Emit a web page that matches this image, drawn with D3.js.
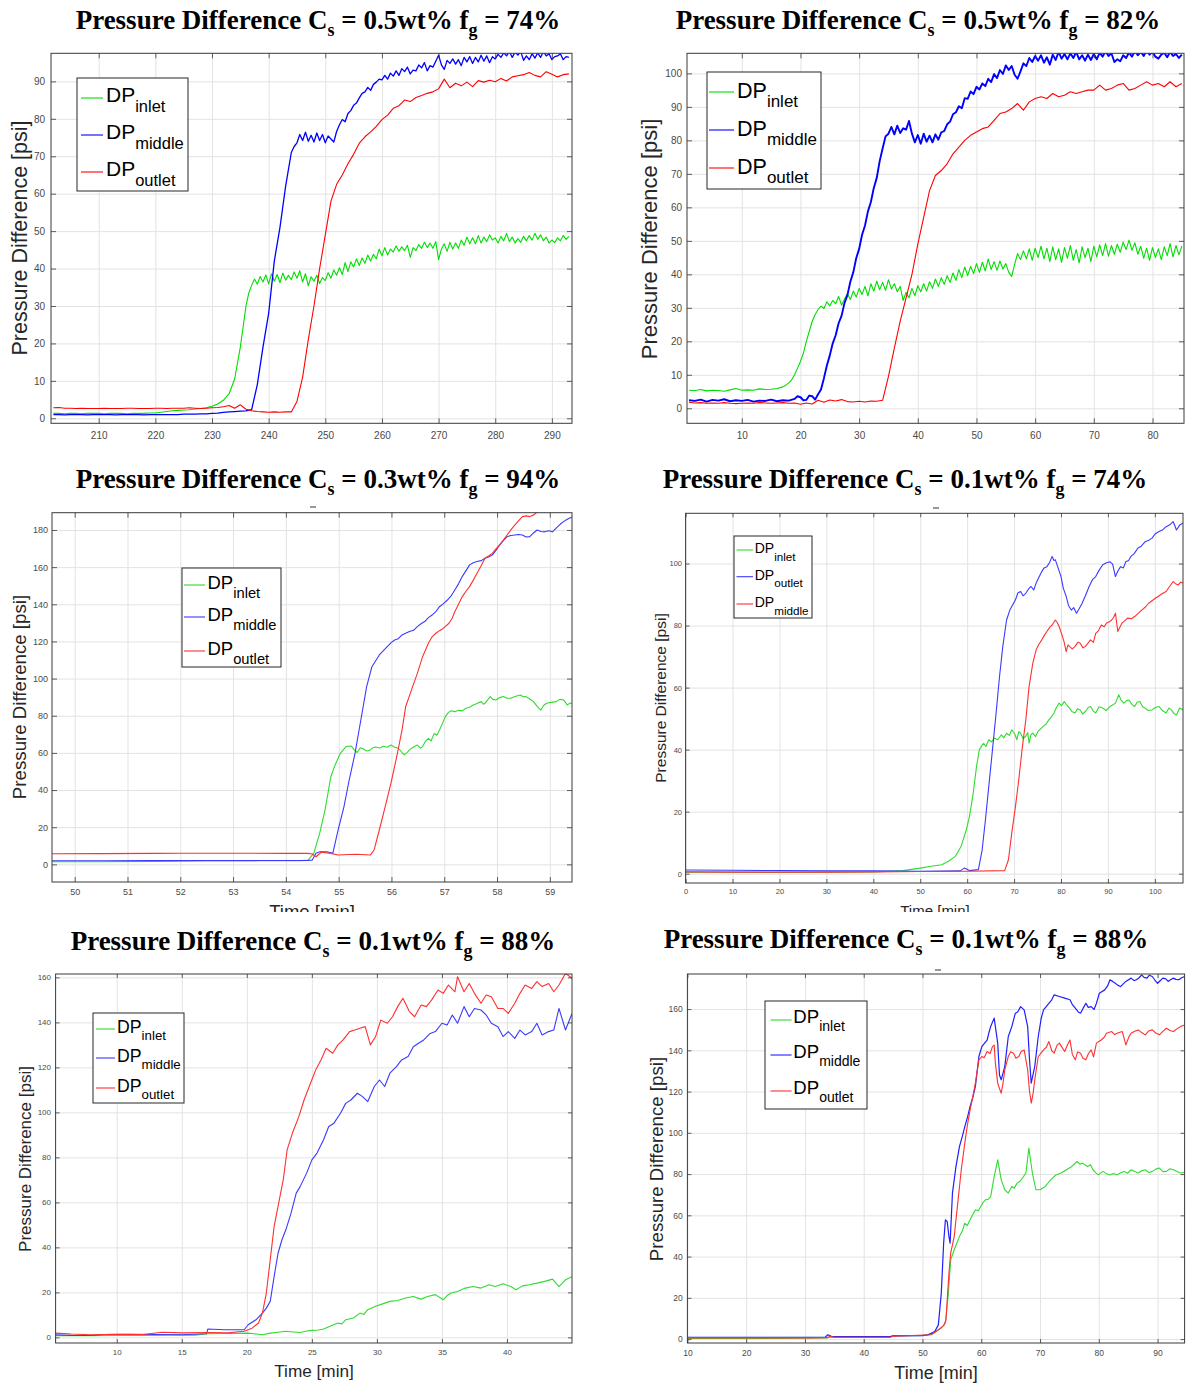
<!DOCTYPE html>
<html>
<head>
<meta charset="utf-8">
<script src="https://cdn.jsdelivr.net/npm/d3@7"></script>
<style>
  body { margin: 0; background: #fff; }
  svg { display: block; }
</style>
</head>
<body>
<svg id="fig" width="1190" height="1385"></svg>
<script>
// ---------------- data ----------------
// Run 1: Cs = 0.5 wt%, fg = 74 %
// logger switches from 1-min to 0.5-min readings once the pressure builds up
const run1InletTime = d3.range(202, 236).concat(d3.range(236, 293.5, 0.5));
const run1Inlet = [1.3,1.3,1.2,1.3,1.3,1.2,1.3,1.3,1.3,1.2,1.3,1.3,1.3,1.2,1.3,1.3,1.3,1.4,1.4,
  1.6,1.8,2.0,2.1,2.2,2.3,2.5,2.6,2.8,
  3.2,3.8,4.8,6.5,10.5,19,
  30,33.5,35.5,37.2,35.8,37.9,36.4,38.3,35.9,38.6,
  36.6,38.4,36.2,38.8,36.9,38.2,37,39.1,37.4,39.4,
  36.4,38.6,35.4,37.8,36.6,38.2,36,37.6,36.8,38.9,
  37.4,39.6,38.2,40.2,38.4,41.6,39.2,41.8,40.4,42.6,
  40.8,42.8,41.4,43.6,42,43.8,42.6,45.2,43.4,45.6,
  43.6,45.2,44.4,46,44.6,45.8,44.8,46.2,43,45.6,
  44.8,46.4,45.4,47,45.6,46.8,45.4,47.2,42.4,45.2,
  46.6,44.6,47,45.2,46.8,45.4,47.6,46.2,48.4,46.6,
  48.2,46.6,48.8,46.8,48.4,47.2,49,47.6,48.2,46.8,
  48.6,47.4,49.4,47.2,48.4,46.8,48,47,48.6,47.4,
  48.8,47.6,49.4,47.8,49,47.4,48.4,46.8,47.6,46.9,
  48.2,47.4,48.8,47.8,48.6];
const run1MiddleTime = d3.range(202, 244).concat(d3.range(244, 293.5, 0.5));
const run1Middle = [1.0,1.0,0.9,1.0,1.0,1.0,0.9,1.0,1.0,1.0,1.0,0.9,1.0,1.0,1.0,1.0,0.9,1.0,1.0,1.0,1.0,1.0,1.0,1.1,1.1,1.1,1.2,1.2,1.3,
  1.4,1.6,1.7,1.8,1.9,2.0,2.3,9,19,28,42,51,62,
  71,72.6,73.6,75.8,74.2,76.4,74,75.6,73.8,76.2,
  74.2,75.8,73.6,75.4,74.6,73.8,76.6,78.4,79.8,79.2,
  81.4,82.2,83.6,84.2,85.6,86.8,87.2,88.4,87.6,89.2,
  89.8,90.6,90.4,91.6,90.6,92.2,91.4,92.8,91.6,93.4,
  92.6,93.8,92,93,92.8,94.4,93.6,95,92.8,94.2,
  93.8,95.4,97,94.4,93.2,95.6,94.8,96,94.6,95.8,
  94.2,96.4,95.2,96.6,94.8,96.4,95.2,97,95.4,96.8,
  95,96.6,96,97.2,96.4,97.6,96.8,98,96.4,97.8,
  97,98,95.6,96.8,95.8,97.4,96.2,97.6,96.4,98,
  96.8,97.4,95.8,96.6,96.8,97.4,95.8,96.6,96.4];
const run1OutletTime = d3.range(202, 294);
const run1Outlet = [2.8,2.9,2.7,2.7,2.6,2.7,2.6,2.6,2.6,2.7,2.6,2.6,2.6,2.7,2.7,2.6,2.6,2.6,2.7,2.7,2.6,2.7,2.7,2.7,2.8,2.7,2.6,2.7,
  2.8,2.9,3.1,3.4,2.7,3.6,2.4,2.0,1.8,1.7,1.6,1.7,1.6,1.7,1.7,4.5,11,21,30,40,49,58,62.5,65,68,70.5,73.5,
  75.2,76.5,78,79.8,81,82.8,83.5,85,84.6,85.7,86.2,86.8,87.2,88,90.6,88.3,89.5,88.8,89.8,88.6,90.2,89.8,
  90.3,89.9,90.8,90.1,91.2,91.5,91.8,92.4,91.6,91.2,92.6,91.9,91.2,91.8,92.0];

// Run 2: Cs = 0.5 wt%, fg = 82 %
const run2InletTime = d3.range(1, 17).concat(d3.range(17, 85.5, 0.5));
const run2Inlet = [5.4,5.3,5.6,5.2,5.4,5.3,5.1,5.5,5.9,5.4,5.5,5.4,5.8,5.6,5.7,5.9,
  6.4,6.9,7.6,8.5,10,12,14,16.5,20,23,
  26,28,29.5,30.5,29.8,31.8,30.6,32.2,31.2,33.4,
  30.8,32.6,34.2,32.5,35,33.2,35.8,34,36.4,33.6,
  37.2,35,38,35.4,37.6,35.2,38.4,35.6,37.2,34.8,
  36.4,32.2,34.6,33,35.8,33.6,36.6,34.8,37.2,35,
  37.8,35.8,38.6,36.4,39,37,39.6,37.6,40.4,38.2,
  41.4,39,42.2,39.6,42.4,40.2,43.2,40.6,43.6,41,
  44.6,41.4,43.8,41.2,44,41.6,43.2,40.6,39.4,43,
  46.2,44.4,47,44.6,47.6,44.2,47.8,45,48.4,44.6,
  47.8,43.8,48.2,44.4,47.6,43.6,48,44.8,48.6,44.2,
  47.4,43.4,48.2,45,47.8,43.8,48.4,45.2,48.8,45.6,
  49.2,45.4,48.6,46,49,46.6,49.6,47.4,50.2,47.2,
  49.4,46,48.4,44.8,47.8,44.2,48,45,47.6,44.4,
  48.2,45.6,49.2,45.2,48.6,45.8,48.4];
const run2MiddleTime = d3.range(1, 19).concat(d3.range(19, 85.5, 0.5));
const run2Middle = [2.4,2.2,2.6,2.0,2.5,2.3,2.7,2.1,2.4,2.2,2.5,2.0,2.3,2.2,2.6,2.1,2.4,2.3,
  2.8,3.6,3.3,2.4,2.5,3.8,3.6,2.6,4.2,5.6,
  9,12.8,15.8,19.4,21.8,25.4,27.6,31.4,33.8,37.8,
  40.6,44.8,47.6,51.8,54.6,58.8,61.6,65.8,68.8,73.8,
  77.6,81.2,82,84,81.8,84.4,82.2,83.6,83.2,85.8,
  82,79.4,81.6,79,82,79.6,81.4,79.4,81.8,80.2,
  82.4,82.8,84.8,85.6,87.8,88.4,90.2,89.6,92.6,92.4,
  94.6,93.8,96,95.2,97,96.2,98.4,97.4,99.8,98.6,
  101,99.8,102.4,101,102.2,99.6,98.4,100.6,103,102.2,
  104.6,103.4,105.2,103.8,105.4,103.2,104.8,102.6,105.6,104,
  106.4,104.4,105.8,104.2,106,104.6,106.4,104.2,105.4,103.8,
  105.6,104,105.8,104.2,106.2,105,106.6,105.2,106,103.4,
  104.2,103.6,105.4,104.6,106.2,105,106.6,105.4,106.4,105.2,
  106.8,105.6,106.4,105,104.4,105.6,106.2,104.8,106.4,105.2,
  105.8,104.6,105.6];
const run2OutletTime = d3.range(1, 86);
const run2Outlet = [1.8,1.6,1.7,1.5,1.6,1.5,1.7,1.5,1.4,1.5,1.6,1.5,1.7,1.6,1.5,1.6,1.7,1.5,1.6,
  1.2,1.6,1.3,2.4,1.8,2.5,2.2,2.6,2.0,1.9,2.1,1.9,2.2,2.1,2.4,9.5,18,26,33,40,49,57,65,69.5,71,73,76,78,
  80,81.5,82.5,83.5,84,86,88,88.5,89.5,91,89,91.5,92.5,93,92.5,94,93,93.5,94.5,94,94.5,95,95,96.5,95,
  95.5,96.5,97,95,95.5,96.5,97.5,96.5,97,96,97.5,96,97];

// Run 3: Cs = 0.3 wt%, fg = 94 %  [time, psi]
const run3Inlet = [[49.57,1.4],[50.5,1.4],[51.5,1.6],[52.5,1.8],[53.5,1.9],[54.3,2.0],[54.42,2.3],[54.53,6],[54.64,16.7],[54.74,29],[54.85,47],[54.92,52.6],[55.03,59.8],[55.14,63.4],[55.24,63.7],[55.3,61.5],[55.35,60.2],[55.41,62.8],[55.46,62.2],[55.53,61],[55.6,61.6],[55.65,62.8],[55.7,63.2],[55.78,62.6],[55.85,63.6],[55.92,63.0],[55.99,64.2],[56.06,63.0],[56.13,62.5],[56.24,58.9],[56.3,60.3],[56.34,61.6],[56.42,63.2],[56.49,64.2],[56.55,62.6],[56.59,63.4],[56.65,66.5],[56.7,67.8],[56.75,66.4],[56.81,70.5],[56.86,69.5],[56.91,72.3],[56.96,75.5],[57.02,79.5],[57.08,81.8],[57.13,82.7],[57.2,82.2],[57.27,83],[57.34,82.6],[57.41,84],[57.48,84.6],[57.55,85.8],[57.62,86.6],[57.7,87.6],[57.74,86.2],[57.77,86.7],[57.83,88.8],[57.87,90.3],[57.92,88.8],[57.98,88.5],[58.05,89.8],[58.12,90.3],[58.19,89.4],[58.26,89.4],[58.34,90.4],[58.44,91.2],[58.5,90.2],[58.55,90.3],[58.62,89.0],[58.69,87.6],[58.76,85.0],[58.83,83],[58.88,85.5],[58.94,86.7],[59.02,87.2],[59.12,87.6],[59.19,88.8],[59.26,88.5],[59.33,85.8],[59.38,86.8],[59.42,86.7]];
const run3Middle = [[49.57,1.9],[50.5,1.9],[51.5,2.0],[52.5,2.1],[53.5,2.1],[54.4,2.1],[54.5,2.3],[54.57,6],[54.64,6.8],[54.78,6.8],[54.89,6],[54.99,18.5],[55.1,31],[55.2,45.4],[55.31,59.8],[55.42,77.7],[55.53,95.7],[55.63,106.4],[55.77,112.7],[55.92,117.2],[56.0,119.5],[56.06,120.8],[56.13,121.5],[56.2,123.5],[56.27,124.4],[56.34,125.3],[56.42,126],[56.49,128],[56.56,129.5],[56.63,130.7],[56.7,132.8],[56.77,134.2],[56.84,136],[56.91,138.7],[56.98,140.2],[57.06,142.3],[57.13,144.5],[57.2,147.7],[57.27,151],[57.34,154.9],[57.41,158],[57.48,161.2],[57.55,162.4],[57.62,163],[57.7,163.5],[57.77,164.8],[57.84,165.4],[57.91,166.5],[57.98,169],[58.05,172],[58.12,174.3],[58.19,176.4],[58.26,177],[58.34,177.3],[58.41,177.6],[58.48,177.3],[58.55,176.2],[58.62,176.4],[58.69,178.4],[58.76,180],[58.83,179.2],[58.9,179],[58.98,179.6],[59.05,179],[59.1,180.5],[59.15,181.8],[59.2,183.2],[59.26,184.5],[59.33,185.8],[59.38,186.5],[59.42,187]];
const run3Outlet = [[49.57,5.7],[50.5,5.8],[51.5,5.9],[52.0,6.0],[53.0,6.0],[54.0,5.9],[54.42,5.9],[54.5,5.6],[54.57,4.1],[54.67,6.5],[54.85,5.9],[54.99,5.0],[55.2,5.3],[55.35,5.4],[55.6,5.0],[55.67,7.7],[55.77,18.5],[55.88,31],[55.99,43.6],[56.1,58],[56.2,72.3],[56.27,85],[56.38,93.9],[56.49,102.8],[56.59,111.8],[56.7,119],[56.77,122.5],[56.84,124.4],[56.91,125.8],[56.98,127],[57.09,129.8],[57.15,132.5],[57.2,136],[57.27,140],[57.34,144],[57.41,147],[57.48,149.5],[57.55,153],[57.62,156.7],[57.7,160.8],[57.77,164.8],[57.84,166],[57.91,167.4],[57.98,169.8],[58.05,172],[58.12,174.5],[58.19,177.3],[58.26,180],[58.34,182.7],[58.41,185],[58.48,187.2],[58.55,187.6],[58.62,187.2],[58.69,188],[58.73,189],[58.78,190],[58.83,190.8],[58.9,192]];

// Run 4: Cs = 0.1 wt%, fg = 74 %  [time, psi]
const run4Inlet = [[0,0.5],[10,0.5],[20,0.4],[30,0.5],[40,0.6],[46.3,1.0],[50,1.8],[52.3,2.4],[54.6,2.9],[56,4],[57.5,5.6],[58.7,8.8],[59.8,14],[60.5,18.5],[61.3,26],[62,34.6],[62.6,40],[63.1,41.2],[63.5,42],[64,41],[64.6,43.2],[65.2,42.5],[65.8,43.7],[66.5,43.2],[67.3,44.8],[67.8,43.8],[68.4,45.3],[69,44.6],[69.5,46.4],[70.1,45.2],[70.6,43.2],[71,45.8],[71.4,45.3],[71.9,43.6],[72.5,44.3],[72.9,45.5],[73.2,42.1],[73.6,44.8],[74,45.3],[74.6,44.2],[75.1,45.9],[75.6,46.6],[76.2,47.5],[76.8,48.2],[77.4,49.6],[77.9,50.5],[78.5,51.8],[79,53.5],[79.6,55],[80.1,54.2],[80.7,55.5],[81.2,54.4],[81.8,53.4],[82.4,52.2],[83,51.8],[83.5,53.2],[84.1,52.8],[84.6,51.5],[85.2,52.3],[85.8,53.6],[86.3,53.9],[86.9,52.4],[87.4,51.8],[88.1,53.8],[88.9,53.4],[89.6,52.6],[90.4,53.9],[91,54.4],[91.6,55],[92.3,57.7],[92.8,56],[93.4,55],[94,55.8],[94.5,56],[95.1,54.6],[95.7,53.9],[96.2,55.3],[96.8,55.5],[97.4,53.8],[97.9,53.4],[98.6,52.6],[99.4,52.8],[100.1,53.6],[100.9,53.9],[101.6,52.6],[102.4,51.8],[103,53.4],[103.5,52.8],[104.1,51.6],[104.6,51.2],[105.3,53.4],[106,52.8]];
const run4Outlet = [[0,1.2],[10,1.1],[20,1.0],[30,0.9],[40,0.9],[50,0.8],[58.5,0.9],[59.4,1.8],[60.5,1.0],[62.4,1.3],[63.2,7.7],[63.9,17.4],[64.6,28],[65.4,40],[66.1,50.7],[66.9,63.6],[67.6,73.3],[68.4,81.8],[69.1,85],[70.3,88.3],[70.8,90.5],[71.4,91],[71.9,89.6],[72.5,90.4],[73.1,91.8],[73.6,92.6],[74.2,91.5],[74.7,93.7],[75.3,95.6],[75.9,97.4],[76.4,98.6],[77,99],[77.6,100.4],[78.1,102.3],[78.5,101],[78.8,101.2],[79.4,98.5],[80,95.8],[80.5,92],[81.1,89.4],[81.6,86.5],[82.2,85],[82.7,85.8],[83.3,84],[83.9,85.5],[84.5,87.2],[85.2,89.6],[86,92.6],[86.7,94.8],[87.4,95.8],[88.1,97.8],[88.9,99.6],[89.6,100.2],[90.4,100.6],[91,99.8],[91.6,95.8],[92.1,97.5],[92.7,99],[93.3,98.6],[93.8,100.6],[94.4,101],[94.9,102.3],[95.6,103.2],[96.4,105],[97.1,105.6],[97.9,107],[98.6,107.4],[99.4,108.2],[100.1,109.6],[100.9,110.3],[101.6,110.8],[102.4,111.9],[103.1,112.4],[103.9,113.5],[104.3,112],[104.6,110.8],[105.3,112.4],[106,113]];
const run4Middle = [[0,0.6],[10,0.5],[20,0.5],[30,0.5],[40,0.6],[50,0.7],[60,0.8],[68,1.0],[68.8,4.5],[69.5,13],[70.3,21.7],[71,30.3],[71.7,40],[72.5,49.6],[73.2,60.4],[74,67.9],[74.7,72.2],[75.3,74],[75.9,75.4],[76.5,77],[77,78.1],[77.6,79.4],[78.1,80.2],[78.8,81.8],[79.2,81],[79.6,79.7],[80.3,76.5],[80.7,74.5],[81.1,71.6],[81.5,73.8],[81.8,73.3],[82.4,72.5],[83,73.3],[83.6,74.6],[84.1,74.3],[84.7,72.8],[85.2,73.3],[85.8,74.4],[86.3,75.4],[86.9,74.6],[87.4,77.5],[88,78.4],[88.6,80.2],[89.2,79.6],[89.7,80.8],[90.3,81.2],[90.8,81.8],[91.2,82.6],[91.6,84],[92.1,78.1],[92.6,79.6],[93,80.8],[93.6,81.6],[94.2,82.4],[95,82.2],[95.7,82.9],[96.5,84],[97.2,85],[98,86],[98.7,87.2],[99.4,88],[100.1,88.8],[100.7,89.4],[101.3,90],[101.9,90.6],[102.4,91],[103.1,92.5],[103.9,94.2],[104.4,93.5],[105,93.1],[105.5,94],[106,93.7]];

// Run 5: Cs = 0.1 wt%, fg = 88 %  [time, psi]
const run5Inlet = [[5.3,0.8],[8,0.8],[10,0.9],[12,0.9],[14,1.0],[16,1.0],[17,1.6],[18.5,1.7],[20.1,1.9],[21.2,1.2],[21.8,1.9],[22.4,2.3],[23,2.7],[23.6,2.4],[24.1,2.2],[24.6,2.8],[25,3.1],[25.5,3.3],[25.9,3.7],[26.4,4.9],[27,6.4],[27.3,6.0],[27.6,7.8],[28.2,8.6],[28.7,10.8],[29,10.2],[29.3,12.3],[29.9,13.8],[30.5,15],[31,16],[31.6,16.4],[32.2,17.5],[32.8,18.2],[33.4,17],[33.9,18.2],[34.5,19],[35.1,16.7],[35.4,18.6],[35.7,19.7],[36.2,20.4],[36.8,21.9],[37.4,22.6],[38,21.9],[38.6,23.4],[39.1,22.6],[39.7,23.8],[40.3,22.6],[40.7,21.2],[41.2,22.9],[41.7,23.4],[42.3,24.1],[42.9,24.9],[43.5,25.9],[44,22.6],[44.5,25.6],[45,27]];
const run5Middle = [[5.3,1.2],[6.5,0.9],[8,0.8],[9,1.3],[11,1.4],[13,1.3],[15,1.2],[16.9,1.6],[17,3.7],[18.3,3.4],[19.8,3.4],[20.1,5.6],[20.7,7.8],[21.2,10.8],[21.5,13],[21.8,16],[22.1,27],[22.4,37.4],[22.7,43.4],[23,47.8],[23.4,55.2],[23.8,64.1],[24.1,67],[24.6,73],[25,78.9],[25.4,81.9],[25.9,87.8],[26.3,93.7],[26.7,95.2],[27.2,99.6],[27.6,104],[28,105.5],[28.5,108.5],[28.9,107],[29.3,104.8],[29.8,111.5],[30.2,114.4],[30.6,111.5],[31,117.4],[31.5,120.3],[31.9,123.3],[32.4,124.8],[32.8,129.2],[33.2,130.7],[33.6,132.2],[34.1,135.1],[34.5,135.9],[35,139.6],[35.4,138.8],[35.8,143.3],[36.2,139.6],[36.7,147],[37.1,142.5],[37.5,146.2],[38,145.5],[38.4,143.3],[38.8,139.6],[39.3,138.1],[39.7,133.7],[40.1,135.9],[40.6,132.9],[41,136.6],[41.4,134.4],[41.9,135.9],[42.3,139.6],[42.7,134.4],[43.2,135.9],[43.6,136.6],[44,146.2],[44.5,136.6],[45,144]];
const run5Outlet = [[5.3,1.9],[6.5,1.5],[8,1.2],[10,1.4],[12,1.3],[13.5,2.3],[15,2.0],[17,2.1],[18.5,2.0],[19.8,2.7],[20.4,4.1],[20.9,6.4],[21.2,10.8],[21.5,19.7],[21.8,34.5],[22.1,49.3],[22.4,58.2],[22.8,70],[23.1,83.3],[23.5,90.7],[24,98.1],[24.4,105.5],[24.8,111.5],[25.3,118.9],[25.7,123.3],[26.1,128.5],[26.6,126.3],[27,130],[27.4,132.2],[27.9,135.9],[28.3,136.6],[28.7,137.4],[29.1,138.1],[29.5,130],[29.9,133.7],[30.3,141],[30.8,139.6],[31.2,142.5],[31.6,147],[32,150.7],[32.5,144.8],[32.9,142.5],[33.4,147.7],[33.8,147],[34.2,149.9],[34.7,154.4],[35.1,152.9],[35.5,156.6],[36,153.6],[36.2,160.3],[36.7,153.6],[37.1,157.3],[37.5,152.9],[38,148.5],[38.4,152.2],[38.8,151.4],[39.3,146.2],[39.7,146.2],[40.1,144],[40.6,148.5],[41,152.9],[41.4,156.6],[41.9,155.1],[42.3,158.1],[42.7,155.9],[43.2,157.3],[43.6,153.6],[44,156.6],[44.5,161.8],[45,159.6]];

// Run 6: Cs = 0.1 wt%, fg = 88 % (repeat)  [time, psi]
const run6Inlet = [[10,0.3],[20,0.3],[30,0.4],[33.8,0.5],[34.2,0.9],[40,0.9],[44.5,1.0],[45,1.6],[50,1.7],[51,2],[52,3],[53.2,5.3],[53.9,7.8],[54.4,22],[54.8,38.4],[55.4,43.3],[56.3,49.8],[56.8,52.5],[57.2,56.2],[57.6,55],[58.1,57.8],[58.5,60],[59,62.7],[59.5,62.2],[59.9,64.3],[60.3,66.2],[60.7,67.5],[61.2,67.8],[61.6,69.1],[62.2,78.8],[62.8,86.9],[63.4,77.2],[64,72.4],[64.6,70.8],[65.2,74],[65.6,73.2],[66.1,75.6],[66.6,76.5],[67,78],[67.6,80.5],[68.1,92.6],[68.7,80.5],[69.3,72.4],[70,72.4],[70.9,74],[71.4,75.8],[71.8,77.2],[72.7,79.6],[73.6,80.5],[74.5,82.1],[75.4,83.7],[76.3,86.1],[76.8,84.8],[77.2,85.3],[78.1,83.7],[78.6,84.5],[79,82.1],[79.5,80.6],[79.9,79.6],[80.7,81.3],[81.3,80.2],[81.9,79.6],[82.5,80.3],[83.1,79.6],[83.7,80.6],[84.3,81.3],[84.9,80.4],[85.5,82.1],[86.1,81.2],[86.7,80.5],[87.3,81.6],[87.9,82.1],[88.5,80.8],[89.1,81.3],[89.7,82.4],[90.3,82.9],[90.9,81.2],[91.5,81.3],[92.1,82.6],[92.7,82.1],[93.3,81.2],[93.9,80.5],[94.6,80.8]];
const run6Middle = [[10,0.9],[20,0.9],[30,0.9],[33.5,1.0],[33.9,2.1],[34.5,1.3],[40,1.2],[44.5,1.2],[45,1.6],[50,1.7],[50.9,2.1],[52.1,3.7],[52.7,6.9],[53.2,22.3],[53.6,46.5],[53.9,57.8],[54.2,57],[54.5,49.8],[54.7,46.5],[55.1,70.8],[55.7,83.7],[56.3,93.4],[56.8,98.5],[57.2,103],[57.7,108],[58.1,112.8],[58.6,117.5],[59,122.5],[59.6,137],[60.1,141.8],[60.5,143.2],[61,145],[61.3,148.5],[61.6,151.5],[62.2,155.6],[62.8,143.5],[63.1,128],[63.4,125.7],[64,132.1],[64.6,146.7],[65.2,151.5],[65.8,158],[66.2,158.6],[66.7,161.2],[67.3,159.6],[67.9,151.5],[68.2,136],[68.5,124.1],[69.1,132.1],[69.7,146.7],[70.2,155.5],[70.6,159.6],[71.5,162.8],[72,164.5],[72.4,166.9],[73.3,166.1],[74.2,165.3],[75.1,164.5],[75.5,162.2],[76,160.4],[76.5,158.6],[76.9,158],[77.3,160.2],[77.8,162.8],[78.2,160.8],[78.7,161.2],[79.2,159.8],[79.6,162.8],[80.1,167.7],[81,169.3],[81.5,171.2],[81.9,174.2],[82.4,173.3],[82.8,172.5],[83.2,171.6],[83.7,170.9],[84.2,172.3],[84.6,173.4],[85.5,175],[86,173.8],[86.4,174.2],[86.9,175.3],[87.3,176.6],[87.7,175.4],[88.2,175],[88.6,176.4],[89.1,175.8],[89.5,174.2],[90,172.5],[90.4,173.6],[90.9,175],[91.4,174.6],[91.8,173.4],[92.2,174.2],[92.7,175],[93.1,174.4],[93.6,174.2],[94.1,175.2],[94.6,175.8]];
const run6Outlet = [[10,0.6],[20,0.6],[30,0.6],[33.8,0.7],[34.2,1.3],[35,0.9],[40,0.9],[44.5,0.9],[45,1.4],[51.5,2.1],[52.7,4.5],[53.6,6.5],[54,9.4],[54.5,32],[54.8,41.7],[55.4,49.8],[56,65.9],[56.6,82.1],[57.2,95],[57.6,103],[58.1,111.1],[58.6,118],[59,124.1],[59.6,135.4],[60.1,137],[60.5,136.4],[61,139.4],[61.5,138.4],[61.9,141.8],[62.2,142.5],[62.4,133.8],[62.8,124.1],[63.1,121.5],[63.4,119.2],[63.7,124],[64,130.5],[64.6,137],[65,139.3],[65.5,138.6],[65.9,136.2],[66.4,137],[66.8,139.4],[67.3,140.2],[67.9,130.5],[68.2,120.5],[68.5,114.4],[68.8,118.6],[69.1,125.7],[69.7,137],[70.1,138.4],[70.6,140.2],[71.1,141.6],[71.5,144.3],[72,139.8],[72.4,138.6],[72.9,142.5],[73.3,143.5],[73.8,141.2],[74.2,139.4],[74.7,142.8],[75.1,145],[75.5,138],[76,135.4],[76.4,139.2],[76.9,138.6],[77.3,136.2],[77.8,135.4],[78.2,138.2],[78.7,140.2],[79.1,136.8],[79.6,143.5],[80.4,145],[80.9,146.2],[81.3,148.3],[82.2,149.1],[82.7,147.6],[83.1,148.3],[84,149.1],[84.6,142.6],[85.1,146.4],[85.5,148.3],[86.1,149.2],[86.7,149.9],[87.3,148.6],[87.9,147.5],[88.5,149.4],[89.1,149.9],[89.7,148.4],[90.3,147.5],[90.9,149.2],[91.5,150.7],[92.1,149.6],[92.7,149.1],[93.3,150.4],[93.9,151.5],[94.6,152.3]];

// Panel titles: Cs [wt%] and fg [%]
const titleCs = ["0.5", "0.5", "0.3", "0.1", "0.1", "0.1"];
const titleFg = ["74", "82", "94", "74", "88", "88"];

// Tick values
const xTicks = [d3.range(210, 291, 10), d3.range(10, 81, 10), d3.range(50, 60, 1),
                d3.range(0, 101, 10), d3.range(10, 41, 5), d3.range(10, 91, 10)];
const yTicks = [d3.range(0, 91, 10), d3.range(0, 101, 10), d3.range(0, 181, 20),
                d3.range(0, 101, 20), d3.range(0, 161, 20), d3.range(0, 161, 20)];

// ---------------- drawing ----------------
const svg = d3.select("#fig");
svg.append("rect").attr("width", 1190).attr("height", 1385).attr("fill", "#fff");

const SANS = "'Liberation Sans', Arial, Helvetica, sans-serif";
const SERIF = "'Liberation Serif', 'Times New Roman', Times, serif";
const GRID = "#e3e3e3";
const AXIS = "#3a3a3a";
const TICKTXT = "#4a4a4a";

const strong = { green: "#00dd00", blue: "#0000ff", red: "#ff0000" };
const soft = { green: "#2fdc2f", blue: "#3a3aff", red: "#ff3030" };

const panels = [
  {
    id: 1, box: [51, 572, 53.3, 423.3], xDomain: [201.58, 293.55], yDomain: [-1.34, 97.5],
    title: { cx: 318, y: 29 }, ylab: { x: 20, y: 238, fs: 21.5 },
    tickFs: 10, xPad: 9, yPad: 6, tick: 5,
    series: [
      { data: d3.zip(run1InletTime, run1Inlet), color: strong.green, w: 1.1 },
      { data: d3.zip(run1MiddleTime, run1Middle), color: strong.blue, w: 1.3 },
      { data: d3.zip(run1OutletTime, run1Outlet), color: strong.red, w: 1.1 }
    ],
    legend: { x: 77, y: 78, w: 111, h: 113, rows: [98, 135, 172], lx: [81, 103], tx: 106,
              fs: 21, subFs: 16.5, base: 3.6, sub: 10,
              items: [["inlet", strong.green], ["middle", strong.blue], ["outlet", strong.red]] }
  },
  {
    id: 2, box: [687, 1184, 53.3, 423.3], xDomain: [0.66, 85.37], yDomain: [-4.48, 106],
    title: { cx: 918, y: 29 }, ylab: { x: 649, y: 239, fs: 22 },
    tickFs: 10, xPad: 9, yPad: 5, tick: 5,
    series: [
      { data: d3.zip(run2InletTime, run2Inlet), color: strong.green, w: 1.1 },
      { data: d3.zip(run2MiddleTime, run2Middle), color: strong.blue, w: 1.9 },
      { data: d3.zip(run2OutletTime, run2Outlet), color: strong.red, w: 1.1 }
    ],
    legend: { x: 707, y: 72, w: 114, h: 117, rows: [92, 130, 168], lx: [709, 734], tx: 737,
              fs: 21.5, subFs: 17, base: 6, sub: 9,
              items: [["inlet", strong.green], ["middle", strong.blue], ["outlet", strong.red]] }
  },
  {
    id: 3, box: [52, 572, 512.7, 882], xDomain: [49.57, 59.42], yDomain: [-9.5, 189.3],
    title: { cx: 318, y: 488 }, ylab: { x: 19.5, y: 697, fs: 18.7 },
    xlab: { x: 312, y: 918, fs: 18.5, clip: 912 }, dash: [313, 507],
    tickFs: 9, xPad: 6.5, yPad: 4, tick: 5,
    series: [
      { data: run3Inlet, color: soft.green, w: 1.1 },
      { data: run3Middle, color: soft.blue, w: 1.1 },
      { data: run3Outlet, color: soft.red, w: 1.1 }
    ],
    legend: { x: 182, y: 568, w: 99, h: 99, rows: [585, 617, 651], lx: [184, 205], tx: 207.5,
              fs: 18.5, subFs: 14.7, base: 4, sub: 9,
              items: [["inlet", soft.green], ["middle", soft.blue], ["outlet", soft.red]] }
  },
  {
    id: 4, box: [685.6, 1183, 513.3, 883], xDomain: [0, 106], yDomain: [-3, 116.2],
    title: { cx: 905, y: 488 }, ylab: { x: 660, y: 698, fs: 15.5 },
    xlab: { x: 935, y: 916, fs: 15, clip: 912 }, dash: [936, 508],
    tickFs: 7.5, xPad: 6, yPad: 3.6, tick: 4,
    series: [
      { data: run4Inlet, color: soft.green, w: 1.1 },
      { data: run4Outlet, color: soft.blue, w: 1.1 },
      { data: run4Middle, color: soft.red, w: 1.1 }
    ],
    legend: { x: 734, y: 536, w: 78, h: 82, rows: [550, 576.7, 604], lx: [736.5, 753], tx: 754.7,
              fs: 14, subFs: 11.7, base: 3.3, sub: 7.4,
              items: [["inlet", soft.green], ["outlet", soft.blue], ["middle", soft.red]] }
  },
  {
    id: 5, box: [55.6, 572, 974, 1343], xDomain: [5.3, 45], yDomain: [-2.5, 161.5],
    title: { cx: 313, y: 950 }, ylab: { x: 25, y: 1159, fs: 17 },
    xlab: { x: 314, y: 1377, fs: 17.2 },
    tickFs: 8, xPad: 6, yPad: 4.6, tick: 4,
    series: [
      { data: run5Inlet, color: soft.green, w: 1.1 },
      { data: run5Middle, color: soft.blue, w: 1.1 },
      { data: run5Outlet, color: soft.red, w: 1.1 }
    ],
    legend: { x: 93, y: 1013, w: 91, h: 90, rows: [1029, 1058, 1088], lx: [96, 115], tx: 117,
              fs: 17.7, subFs: 13.3, base: 3.7, sub: 7.3,
              items: [["inlet", soft.green], ["middle", soft.blue], ["outlet", soft.red]] }
  },
  {
    id: 6, box: [687.4, 1184.6, 974, 1343], xDomain: [10, 94.6], yDomain: [-1.9, 177],
    title: { cx: 906, y: 948 }, ylab: { x: 656, y: 1159, fs: 18.7 },
    xlab: { x: 936, y: 1379, fs: 18 }, dash: [938, 970],
    tickFs: 8.5, xPad: 7, yPad: 4.6, tick: 4,
    series: [
      { data: run6Inlet, color: soft.green, w: 1.1 },
      { data: run6Middle, color: "#1f1fff", w: 1.2 },
      { data: run6Outlet, color: soft.red, w: 1.1 }
    ],
    legend: { x: 765, y: 1001, w: 102, h: 108, rows: [1020, 1055, 1091], lx: [770.5, 791.6], tx: 793.3,
              fs: 18.6, subFs: 14, base: 3.3, sub: 7.7,
              items: [["inlet", soft.green], ["middle", "#1f1fff"], ["outlet", soft.red]] }
  }
];

function styleAxis(sel, fs) {
  sel.select(".domain").remove();
  sel.selectAll(".tick line").attr("stroke", AXIS).attr("stroke-width", 0.8);
  sel.selectAll(".tick text").attr("fill", TICKTXT).attr("font-size", fs).attr("font-family", SANS);
}

panels.forEach((p, i) => {
  const [L, R, T, B] = p.box;
  const W = R - L, H = B - T;
  const g = svg.append("g").attr("class", "panel-" + p.id);
  const x = d3.scaleLinear().domain(p.xDomain).range([L, R]);
  const y = d3.scaleLinear().domain(p.yDomain).range([B, T]);

  // title with subscripts
  const t = g.append("text")
    .attr("x", p.title.cx).attr("y", p.title.y)
    .attr("text-anchor", "middle")
    .attr("font-family", SERIF).attr("font-weight", "bold").attr("font-size", 27)
    .attr("fill", "#000");
  t.append("tspan").text("Pressure Difference C");
  t.append("tspan").attr("font-size", 18).attr("dy", 7).text("s");
  t.append("tspan").attr("dy", -7).text(" = " + titleCs[i] + "wt% f");
  t.append("tspan").attr("font-size", 18).attr("dy", 7).text("g");
  t.append("tspan").attr("dy", -7).text(" = " + titleFg[i] + "%");

  if (p.dash) {
    g.append("line").attr("x1", p.dash[0] - 3).attr("x2", p.dash[0] + 3)
      .attr("y1", p.dash[1]).attr("y2", p.dash[1]).attr("stroke", "#555").attr("stroke-width", 1.2);
  }

  // axes background
  g.append("rect").attr("x", L).attr("y", T).attr("width", W).attr("height", H).attr("fill", "#fff");

  // grid
  g.append("g").attr("transform", `translate(0,${B})`)
    .call(d3.axisBottom(x).tickValues(xTicks[i]).tickSize(-H).tickFormat(""))
    .call(s => { s.select(".domain").remove(); s.selectAll("line").attr("stroke", GRID).attr("stroke-width", 1); });
  g.append("g").attr("transform", `translate(${L},0)`)
    .call(d3.axisLeft(y).tickValues(yTicks[i]).tickSize(-W).tickFormat(""))
    .call(s => { s.select(".domain").remove(); s.selectAll("line").attr("stroke", GRID).attr("stroke-width", 1); });

  // data lines
  const clipId = "clip-" + p.id;
  svg.append("clipPath").attr("id", clipId)
    .append("rect").attr("x", L).attr("y", T).attr("width", W).attr("height", H);
  const line = d3.line().x(d => x(d[0])).y(d => y(d[1]));
  const lines = g.append("g").attr("clip-path", `url(#${clipId})`);
  p.series.forEach(s => {
    lines.append("path").datum(s.data).attr("d", line)
      .attr("fill", "none").attr("stroke", s.color).attr("stroke-width", s.w)
      .attr("stroke-linejoin", "round");
  });

  // box + inward ticks
  g.append("rect").attr("x", L).attr("y", T).attr("width", W).attr("height", H)
    .attr("fill", "none").attr("stroke", AXIS).attr("stroke-width", 1);
  g.append("g").attr("transform", `translate(0,${B})`)
    .call(d3.axisBottom(x).tickValues(xTicks[i]).tickSizeInner(-p.tick).tickSizeOuter(0).tickPadding(p.xPad).tickFormat(d3.format("d")))
    .call(s => styleAxis(s, p.tickFs));
  g.append("g").attr("transform", `translate(0,${T})`)
    .call(d3.axisTop(x).tickValues(xTicks[i]).tickSizeInner(-p.tick).tickSizeOuter(0).tickFormat(""))
    .call(s => styleAxis(s, p.tickFs));
  g.append("g").attr("transform", `translate(${L},0)`)
    .call(d3.axisLeft(y).tickValues(yTicks[i]).tickSizeInner(-p.tick).tickSizeOuter(0).tickPadding(p.yPad).tickFormat(d3.format("d")))
    .call(s => styleAxis(s, p.tickFs));
  g.append("g").attr("transform", `translate(${R},0)`)
    .call(d3.axisRight(y).tickValues(yTicks[i]).tickSizeInner(-p.tick).tickSizeOuter(0).tickFormat(""))
    .call(s => styleAxis(s, p.tickFs));

  // axis labels
  g.append("text")
    .attr("transform", `translate(${p.ylab.x},${p.ylab.y}) rotate(-90)`)
    .attr("text-anchor", "middle").attr("dominant-baseline", "central")
    .attr("font-family", SANS).attr("font-size", p.ylab.fs).attr("fill", "#262626")
    .text("Pressure Difference [psi]");
  if (p.xlab) {
    const xl = g.append("g");
    if (p.xlab.clip) {
      const cid = "xlab-clip-" + p.id;
      svg.append("clipPath").attr("id", cid)
        .append("rect").attr("x", L - 60).attr("y", B).attr("width", W + 120).attr("height", p.xlab.clip - B);
      xl.attr("clip-path", `url(#${cid})`);
    }
    xl.append("text").attr("x", p.xlab.x).attr("y", p.xlab.y)
      .attr("text-anchor", "middle").attr("font-family", SANS)
      .attr("font-size", p.xlab.fs).attr("fill", "#262626").text("Time [min]");
  }

  // legend
  const lg = p.legend;
  g.append("rect").attr("x", lg.x).attr("y", lg.y).attr("width", lg.w).attr("height", lg.h)
    .attr("fill", "#fff").attr("stroke", "#262626").attr("stroke-width", 1);
  lg.items.forEach((it, k) => {
    const ry = lg.rows[k];
    g.append("line").attr("x1", lg.lx[0]).attr("x2", lg.lx[1]).attr("y1", ry).attr("y2", ry)
      .attr("stroke", it[1]).attr("stroke-width", 1.1);
    const tx = g.append("text").attr("x", lg.tx).attr("y", ry + lg.base)
      .attr("font-family", SANS).attr("font-size", lg.fs).attr("fill", "#000");
    tx.append("tspan").text("DP");
    tx.append("tspan").attr("font-size", lg.subFs).attr("dy", lg.sub).text(it[0]);
  });
});
</script>
</body>
</html>
